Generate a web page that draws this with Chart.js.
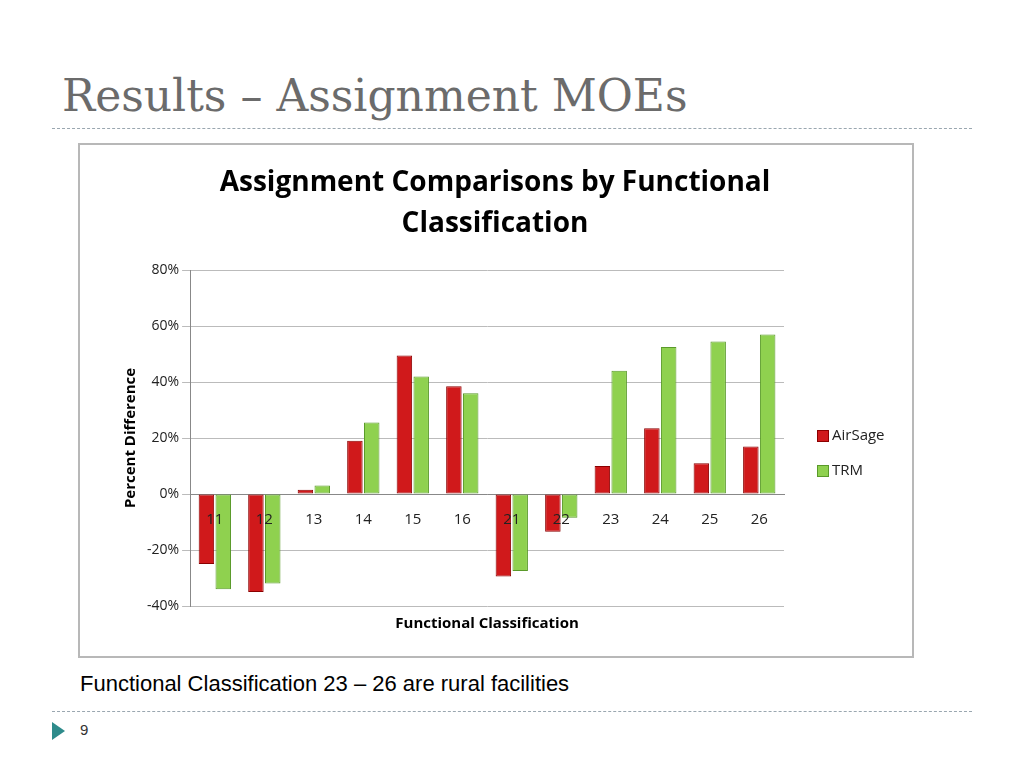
<!DOCTYPE html>
<html>
<head>
<meta charset="utf-8">
<script src="https://cdn.jsdelivr.net/npm/chart.js@4"></script>
<style>
  body { margin:0; width:1024px; height:768px; background:#fff; position:relative; font-family:"Liberation Sans",sans-serif; overflow:hidden; }
  #title { position:absolute; left:62px; top:70px; font-family:"DejaVu Serif",serif; font-size:44px; color:#6b6b6b; }
  .dash { position:absolute; left:52px; width:920px; border-top:1px dashed #9aa7b0; }
  #box { position:absolute; left:78px; top:143px; width:832px; height:511px; border:2px solid #b8b8b8; background:#fff; }
  #caption { position:absolute; left:80px; top:671px; color:#000; font-family:"Liberation Sans",sans-serif; font-size:22px; }
  #tri { position:absolute; left:52px; top:722px; width:0; height:0; border-top:9px solid transparent; border-bottom:9px solid transparent; border-left:13px solid #2e8b8b; }
  #pg { position:absolute; left:80px; top:721px; font-size:15px; color:#333; }
</style>
</head>
<body>
<div id="title">Results – Assignment MOEs</div>
<div class="dash" style="top:128px"></div>
<div id="box"><canvas id="c" width="832" height="511"></canvas></div>
<div id="caption">Functional Classification 23 – 26 are rural facilities</div>
<div class="dash" style="top:711px"></div>
<div id="tri"></div>
<div id="pg">9</div>
<script>
const categories = ["11","12","13","14","15","16","21","22","23","24","25","26"];
const airSage = [-25, -35, 1.5, 19, 49.5, 38.5, -29.5, -13.5, 10, 23.5, 11, 17];
const trm = [-34, -32, 3, 25.5, 42, 36, -27.5, -8.5, 44, 52.5, 54.5, 57];
const yTicks = [-40, -20, 0, 20, 40, 60, 80];
const seriesNames = ["AirSage", "TRM"];
const chartTitle = ["Assignment Comparisons by Functional", "Classification"];
const colors = ["#d0191b", "#8fd14f"];
const edges = ["#8b0000", "#5a9a2a"];

new Chart(document.getElementById("c"), {
  type: "bar",
  data: {
    labels: categories,
    datasets: [
      { label: seriesNames[0], data: airSage, backgroundColor: colors[0], borderColor: edges[0], borderWidth: 1, borderSkipped: false },
      { label: seriesNames[1], data: trm, backgroundColor: colors[1], borderColor: edges[1], borderWidth: 1, borderSkipped: false }
    ]
  },
  options: {
    responsive: false,
    animation: false,
    layout: { padding: { left: 38, right: 128, top: 125, bottom: 50 } },
    datasets: { bar: { categoryPercentage: 0.68, barPercentage: 0.92 } },
    plugins: { legend: { display: false }, tooltip: { enabled: false } },
    scales: {
      x: {
        position: { y: 0 },
        grid: { display: false },
        border: { color: "#888" },
        ticks: { display: false }
      },
      y: {
        min: -40, max: 80,
        afterBuildTicks: s => { s.ticks = yTicks.map(v => ({ value: v })); },
        grid: { color: "#bbb" },
        border: { display: true, color: "#888" },
        ticks: { color: "#222", font: { family: "Open Sans", size: 14 }, callback: v => v + "%" },
        title: { display: true, text: "Percent Difference", color: "#000", font: { family: "Open Sans", size: 15, weight: "bold" } }
      }
    }
  },
  plugins: [{
    id: "labels",
    afterDatasetsDraw(chart) {
      const { ctx, chartArea, scales } = chart;
      ctx.save();
      ctx.textAlign = "center";
      ctx.textBaseline = "middle";
      ctx.fillStyle = "#000";
      ctx.font = "bold 28px 'Open Sans'";
      chartTitle.forEach((t, i) => ctx.fillText(t, 415, 38 + i * 41));
      ctx.textBaseline = "alphabetic";
      ctx.fillStyle = "#222";
      ctx.font = "15px 'Open Sans'";
      const y0 = scales.y.getPixelForValue(0);
      categories.forEach((c, i) => ctx.fillText(c, scales.x.getPixelForValue(i), y0 + 30));
      ctx.font = "bold 15px 'Open Sans'";
      ctx.fillStyle = "#000";
      ctx.fillText("Functional Classification", (chartArea.left + chartArea.right) / 2, chartArea.bottom + 22);
      // legend
      ctx.textAlign = "left";
      ctx.textBaseline = "middle";
      ctx.font = "15px 'Open Sans'";
      seriesNames.forEach((n, i) => {
        const x = chartArea.right + 33, y = 291 + i * 35;
        ctx.fillStyle = colors[i];
        ctx.fillRect(x, y - 6, 12, 12);
        ctx.strokeStyle = edges[i];
        ctx.strokeRect(x + 0.5, y - 5.5, 11, 11);
        ctx.fillStyle = "#222";
        ctx.fillText(n, x + 15, y);
      });
      ctx.restore();
    }
  }]
});
</script>
</body>
</html>
